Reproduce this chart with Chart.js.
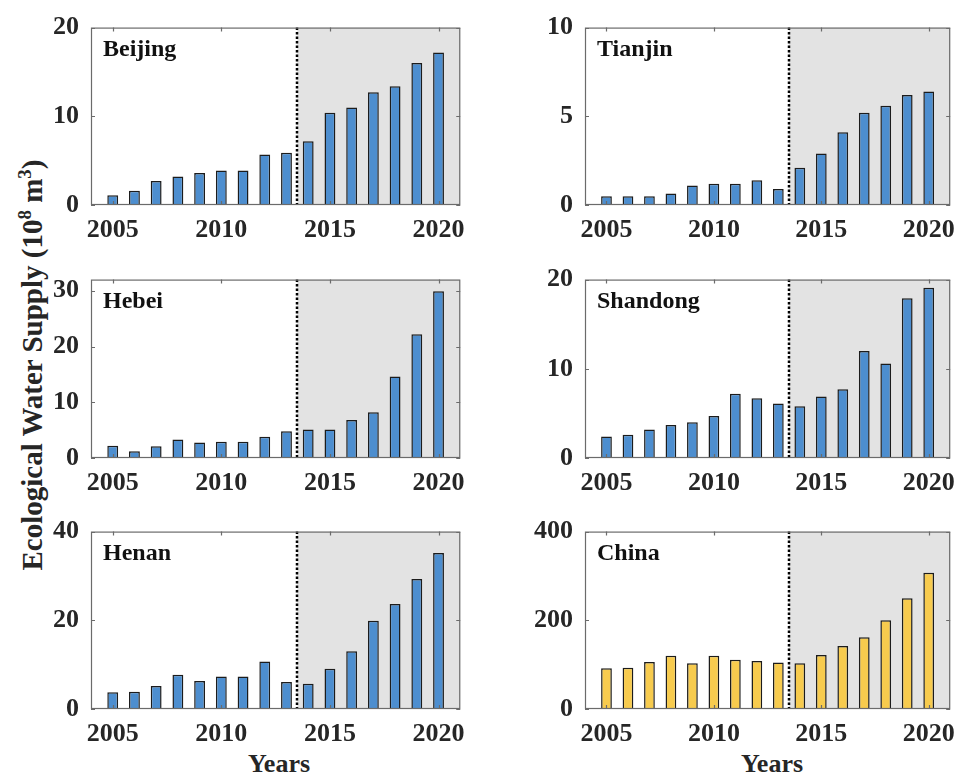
<!DOCTYPE html>
<html>
<head>
<meta charset="utf-8">
<script src="https://cdn.jsdelivr.net/npm/chart.js@4.4.1/dist/chart.umd.min.js"></script>
<style>
  html, body { margin: 0; padding: 0; background: #fff; }
  body { width: 965px; height: 774px; position: relative; overflow: hidden;
         font-family: "Liberation Serif", "Times New Roman", serif; }
  canvas { position: absolute; }
  .lbl { position: absolute; font-weight: bold; color: #262626;
         text-align: center; white-space: nowrap; line-height: 32px; }
  .lbl sup { font-size: 19px; vertical-align: 11px; line-height: 0; }
</style>
</head>
<body>
<div class="lbl" style="left:-218px;top:349px;width:500px;height:32px;font-size:29px;transform:rotate(-90deg);">Ecological Water Supply (10<sup>8</sup> m<sup>3</sup>)</div>
<div class="lbl" style="left:229px;top:748px;width:100px;font-size:26px;">Years</div>
<div class="lbl" style="left:722px;top:748px;width:100px;font-size:26px;">Years</div>

<script>
// Years on the x axis
const years = [2005, 2006, 2007, 2008, 2009, 2010, 2011, 2012,
               2013, 2014, 2015, 2016, 2017, 2018, 2019, 2020];
const yearTicks = [2005, 2010, 2015, 2020];

// Ecological water supply, 10^8 m^3
const beijing  = [1.1, 1.6, 2.7, 3.2, 3.6, 3.9, 3.9, 5.7, 5.9, 7.2, 10.4, 11.0, 12.7, 13.4, 16.0, 17.2];
const tianjin  = [0.5, 0.5, 0.5, 0.65, 1.1, 1.2, 1.2, 1.4, 0.9, 2.1, 2.9, 4.1, 5.2, 5.6, 6.2, 6.4];
const hebei    = [2.2, 1.2, 2.1, 3.3, 2.8, 2.9, 2.9, 3.8, 4.8, 5.1, 5.1, 6.8, 8.2, 14.6, 22.2, 29.9];
const shandong = [2.4, 2.6, 3.2, 3.7, 4.0, 4.7, 7.2, 6.7, 6.1, 5.8, 6.9, 7.7, 12.0, 10.6, 17.9, 19.1];
const henan    = [3.8, 3.9, 5.2, 7.7, 6.3, 7.3, 7.3, 10.7, 6.1, 5.7, 9.1, 13.0, 19.9, 23.7, 29.3, 35.2];
const china    = [92, 93, 106, 120, 103, 120, 111, 108, 105, 103, 122, 142, 162, 200, 250, 307];

// y-axis tick labels per panel
const beijingTicks  = [0, 10, 20];
const tianjinTicks  = [0, 5, 10];
const hebeiTicks    = [0, 10, 20, 30];
const shandongTicks = [0, 10, 20];
const henanTicks    = [0, 20, 40];
const chinaTicks    = [0, 200, 400];

const splitYear = 2013.5;
const BLUE = '#4d8ecf';
const GOLD = '#f7cb4e';

const panels = [
  { name: 'Beijing',  data: beijing,  ticks: beijingTicks,  yMax: 20,  color: BLUE, col: 0, row: 0 },
  { name: 'Tianjin',  data: tianjin,  ticks: tianjinTicks,  yMax: 10,  color: BLUE, col: 1, row: 0 },
  { name: 'Hebei',    data: hebei,    ticks: hebeiTicks,    yMax: 32,  color: BLUE, col: 0, row: 1 },
  { name: 'Shandong', data: shandong, ticks: shandongTicks, yMax: 20,  color: BLUE, col: 1, row: 1 },
  { name: 'Henan',    data: henan,    ticks: henanTicks,    yMax: 40,  color: BLUE, col: 0, row: 2 },
  { name: 'China',    data: china,    ticks: chinaTicks,    yMax: 400, color: GOLD, col: 1, row: 2 }
];

// column / row geometry of each panel's canvas
const cols = [ { left: 0,   width: 475, axisW: 91, padR: 8 },
               { left: 490, width: 475, axisW: 95, padR: 5 } ];
const rows = [ { top: 0,   height: 250, plotH: 181 },
               { top: 252, height: 251, plotH: 182 },
               { top: 504, height: 250, plotH: 181 } ];

const TICK_FONT = { family: '"Liberation Serif", "Times New Roman", serif', size: 26, weight: 'bold' };

// shaded period, dotted divider, boxed frame with inward ticks, panel name
const panelDecor = {
  id: 'panelDecor',
  beforeDatasetsDraw(chart, args, opts) {
    const { ctx, chartArea: a, scales: { x } } = chart;
    const xs = x.getPixelForValue(opts.split);
    ctx.save();
    ctx.fillStyle = '#e3e3e3';
    ctx.fillRect(xs, a.top, a.right - xs, a.bottom - a.top);
    ctx.restore();
  },
  afterDatasetsDraw(chart, args, opts) {
    const { ctx, chartArea: a, scales: { x, y } } = chart;
    const xs = Math.round(x.getPixelForValue(opts.split));
    ctx.save();
    // dotted divider
    ctx.strokeStyle = '#000';
    ctx.lineWidth = 2.5;
    ctx.setLineDash([2.5, 2]);
    ctx.beginPath();
    ctx.moveTo(xs, a.top);
    ctx.lineTo(xs, a.bottom);
    ctx.stroke();
    ctx.setLineDash([]);
    // frame
    ctx.strokeStyle = '#6b6b6b';
    ctx.lineWidth = 1.2;
    ctx.strokeRect(a.left + 0.5, a.top + 0.5, a.right - a.left - 1, a.bottom - a.top - 1);
    // inward ticks
    const L = 4;
    ctx.beginPath();
    x.ticks.forEach(t => {
      const px = Math.round(x.getPixelForValue(t.value)) + 0.5;
      ctx.moveTo(px, a.bottom); ctx.lineTo(px, a.bottom - L);
      ctx.moveTo(px, a.top);    ctx.lineTo(px, a.top + L);
    });
    y.ticks.forEach(t => {
      const py = Math.round(y.getPixelForValue(t.value)) + 0.5;
      ctx.moveTo(a.left, py);  ctx.lineTo(a.left + L, py);
      ctx.moveTo(a.right, py); ctx.lineTo(a.right - L, py);
    });
    ctx.stroke();
    // panel name
    ctx.fillStyle = '#111';
    ctx.font = 'bold 24px "Liberation Serif", "Times New Roman", serif';
    ctx.textBaseline = 'alphabetic';
    ctx.textAlign = 'left';
    ctx.fillText(opts.name, a.left + 12, a.top + 28);
    ctx.restore();
  }
};

panels.forEach((p, i) => {
  const c = cols[p.col], r = rows[p.row];
  const cv = document.createElement('canvas');
  cv.width = c.width; cv.height = r.height;
  cv.style.left = c.left + 'px'; cv.style.top = r.top + 'px';
  cv.style.width = c.width + 'px'; cv.style.height = r.height + 'px';
  document.body.appendChild(cv);

  const xAxisH = r.height - 24 - r.plotH;

  new Chart(cv, {
    type: 'bar',
    data: {
      datasets: [{
        data: years.map((yr, k) => ({ x: yr, y: p.data[k] })),
        backgroundColor: p.color,
        borderColor: '#1c1c1c',
        borderWidth: 1.5,
        borderSkipped: 'start',
        barPercentage: 0.5,
        categoryPercentage: 1.0
      }]
    },
    plugins: [panelDecor],
    options: {
      responsive: false,
      animation: false,
      devicePixelRatio: 1,
      layout: { padding: { left: 0, right: c.padR, top: 24, bottom: 0 } },
      plugins: {
        legend: { display: false },
        tooltip: { enabled: false },
        panelDecor: { name: p.name, split: splitYear }
      },
      scales: {
        x: {
          type: 'linear',
          min: 2004, max: 2021,
          offset: false,
          grid: { display: false, drawTicks: false, offset: false },
          border: { display: false },
          afterBuildTicks: s => { s.ticks = yearTicks.map(v => ({ value: v })); },
          afterFit: s => { s.height = xAxisH; },
          ticks: {
            font: TICK_FONT, color: '#262626', padding: 10,
            maxRotation: 0, autoSkip: false,
            callback: v => String(v)
          }
        },
        y: {
          min: 0, max: p.yMax,
          grid: { display: false, drawTicks: false },
          border: { display: false },
          afterBuildTicks: s => { s.ticks = p.ticks.map(v => ({ value: v })); },
          afterFit: s => { s.width = c.axisW; },
          ticks: {
            font: TICK_FONT, color: '#262626', padding: 12,
            callback: v => String(v)
          }
        }
      }
    }
  });
});
</script>
</body>
</html>
